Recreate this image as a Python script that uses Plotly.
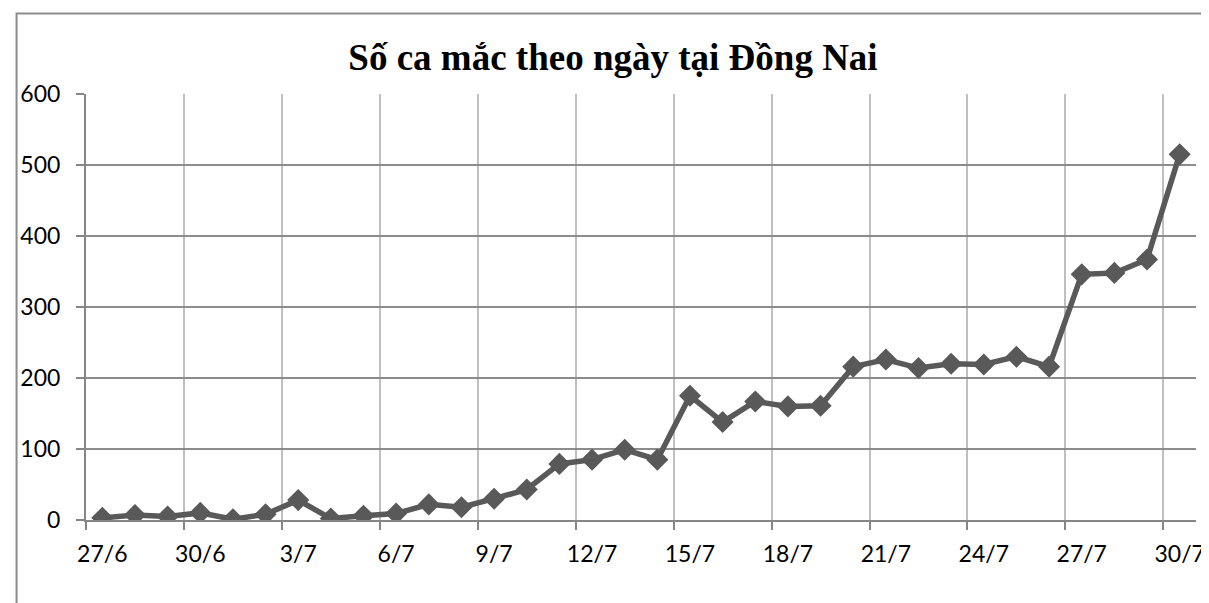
import plotly.graph_objects as go

dates = ["27/6", "28/6", "29/6", "30/6", "1/7", "2/7", "3/7", "4/7", "5/7", "6/7",
         "7/7", "8/7", "9/7", "10/7", "11/7", "12/7", "13/7", "14/7", "15/7", "16/7",
         "17/7", "18/7", "19/7", "20/7", "21/7", "22/7", "23/7", "24/7", "25/7", "26/7",
         "27/7", "28/7", "29/7", "30/7"]
cases = [3, 7, 5, 10, 1, 8, 28, 2, 6, 9,
         22, 18, 30, 43, 79, 85, 99, 85, 175, 138,
         167, 160, 161, 216, 226, 214, 220, 219, 230, 216,
         346, 348, 367, 515]
title_text = "Số ca mắc theo ngày tại Đồng Nai"
y_ticks = [0, 100, 200, 300, 400, 500, 600]

idx = list(range(len(dates)))
label_pos = idx[::3]
label_txt = dates[::3]
boundaries = [i - 0.5 for i in range(0, len(dates) + 1, 3)]

# page body has an 8px margin -> compensate
OFF = 8
W, H = 1209, 603
L, R, T, B = 79, 1198, 94, 520  # target plot area in window px

fig = go.Figure()
fig.add_trace(go.Scatter(
    x=idx, y=cases, mode="lines+markers",
    line=dict(color="#595959", width=5.5),
    marker=dict(symbol="diamond", size=17, color="#595959"),
    hovertext=dates, showlegend=False,
))

fig.update_layout(
    width=W, height=H,
    margin=dict(l=L - OFF, r=W - R + OFF, t=T - OFF, b=H - B + OFF),
    paper_bgcolor="white", plot_bgcolor="white",
    title=dict(text="<b>" + title_text + "</b>", x=(613 - OFF) / W, xanchor="center",
               y=1 - (57 - OFF) / H, yanchor="middle",
               font=dict(family="Liberation Serif, Times New Roman, serif", size=37, color="black")),
    font=dict(family="Lato, Carlito, sans-serif", size=23, color="black"),
    xaxis=dict(
        range=[-0.5, len(dates) - 0.5],
        tickmode="array", tickvals=label_pos, ticktext=label_txt,
        showgrid=False, ticks="", ticklabelstandoff=12,
        showline=True, linecolor="#868686", linewidth=2,
        zeroline=False,
        minor=dict(tickmode="array", tickvals=boundaries, showgrid=True,
                   gridcolor="#BFBFBF", gridwidth=1.5,
                   ticks="outside", ticklen=8, tickcolor="#868686", tickwidth=2),
    ),
    yaxis=dict(
        range=[0, 600], tickmode="array", tickvals=y_ticks,
        showgrid=True, gridcolor="#8C8C8C", gridwidth=1.5,
        ticks="outside", ticklen=8, tickcolor="#868686", tickwidth=2,
        ticklabelstandoff=11,
        showline=True, linecolor="#868686", linewidth=2,
        zeroline=False,
    ),
)

# chart-area border (outer frame)
pw, ph = R - L, B - T
fig.add_shape(type="rect", xref="paper", yref="paper",
              x0=(9 - L) / pw, x1=(1208 - L) / pw,
              y0=-0.3, y1=(B - 13.5) / ph,
              line=dict(color="#8C8C8C", width=2), fillcolor="rgba(0,0,0,0)", layer="below")

fig.write_html("out.html")
